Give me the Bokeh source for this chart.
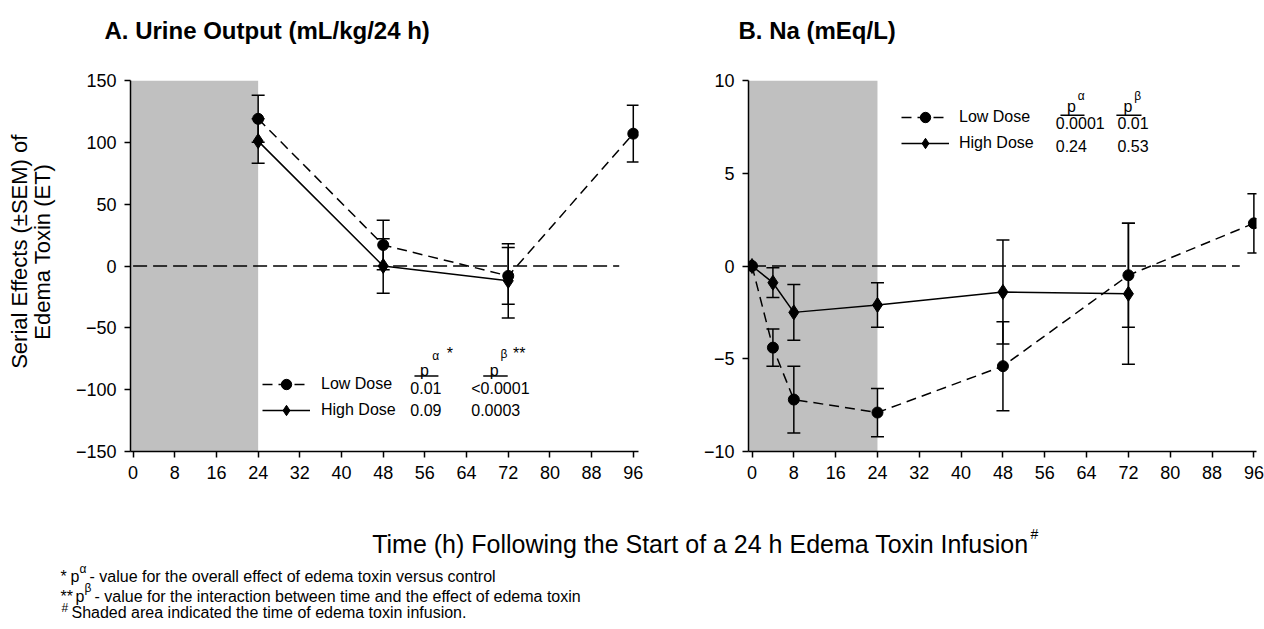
import math
from bokeh.plotting import figure
from bokeh.models import (Range1d, BoxAnnotation, Whisker, ColumnDataSource, Label,
                          FixedTicker, TeeHead, Legend, LegendItem)
from bokeh.layouts import row, column
from bokeh.embed import file_html
from bokeh.resources import INLINE
from bokeh.core.properties import value

# ---------------- data ----------------
hour_ticks = [0, 8, 16, 24, 32, 40, 48, 56, 64, 72, 80, 88, 96]
infusion_start = 0
infusion_end = 24

# Panel A: Urine output (mL/kg/24 h)
uo_low_hours = [24, 48, 72, 96]
uo_low = [119, 17, -8, 107]
uo_low_sem = [19, 20, 23, 23]
uo_high_hours = [24, 48, 72]
uo_high = [101, 0, -12]
uo_high_sem = [18, 22, 30]
uo_ticks = [-150, -100, -50, 0, 50, 100, 150]

# Panel B: Na (mEq/L)
na_low_hours = [0, 4, 8, 24, 48, 72, 96]
na_low = [0, -4.4, -7.2, -7.9, -5.4, -0.5, 2.3]
na_low_sem = [0, 1.0, 1.8, 1.3, 2.4, 2.8, 1.6]
na_high_hours = [0, 4, 8, 24, 48, 72]
na_high = [0, -0.9, -2.5, -2.1, -1.4, -1.5]
na_high_sem = [0, 0.8, 1.5, 1.2, 2.8, 3.8]
na_ticks = [-10, -5, 0, 5, 10]

# p-values
uo_p_alpha = ["0.01", "0.09"]
uo_p_beta = ["<0.0001", "0.0003"]
na_p_alpha = ["0.0001", "0.24"]
na_p_beta = ["0.01", "0.53"]

FONT = "Liberation Sans"
GRAY = "#c0c0c0"


def style(p, yticks):
    p.xaxis.ticker = FixedTicker(ticks=hour_ticks)
    p.yaxis.ticker = FixedTicker(ticks=yticks)
    for ax in p.axis:
        ax.axis_line_width = 1.5
        ax.axis_line_color = "black"
        ax.major_tick_line_width = 1.5
        ax.major_tick_line_color = "black"
        ax.major_tick_in = 0
        ax.major_tick_out = 6
        ax.minor_tick_line_color = None
        ax.major_label_text_font = FONT
        ax.major_label_text_font_size = "18px"
        ax.major_label_text_color = "black"
        ax.major_label_standoff = 8
    p.grid.visible = False
    p.outline_line_color = None
    p.background_fill_color = "white"
    p.border_fill_color = "white"


def lab(p, x, y, s, size="16px", align="left", baseline="middle", bold=False):
    p.add_layout(Label(x=x, y=y, text=s, text_font=FONT, text_font_size=size,
                       text_align=align, text_baseline=baseline, text_color="black",
                       text_font_style="bold" if bold else "normal"))


def whiskers(p, xs, ys, sems):
    xx = [x for x, s in zip(xs, sems) if s > 0]
    up = [y + s for y, s in zip(ys, sems) if s > 0]
    lo = [y - s for y, s in zip(ys, sems) if s > 0]
    src = ColumnDataSource(dict(x=xx, upper=up, lower=lo))
    w = Whisker(base="x", upper="upper", lower="lower", source=src,
                line_color="black", line_width=1.5,
                upper_head=TeeHead(size=13, line_width=1.5, line_color="black"),
                lower_head=TeeHead(size=13, line_width=1.5, line_color="black"))
    p.add_layout(w)


def series(p, xs, ys, dash, marker, msize):
    r_line = p.line(xs, ys, line_color="black", line_width=1.5, line_dash=dash)
    r_pts = p.scatter(xs, ys, marker=marker, size=msize, fill_color="black", line_color="black")
    return r_line, r_pts


def strip(width, height, x0, x1, ytop, ybottom):
    s = figure(width=width, height=height, output_backend="svg", toolbar_location=None,
               x_range=Range1d(x0, x1), y_range=Range1d(ybottom, ytop),
               x_axis_type=None, y_axis_type=None,
               min_border_left=0, min_border_right=0, min_border_top=0, min_border_bottom=0)
    s.grid.visible = False
    s.outline_line_color = None
    return s


def stext(s, x, y, t, size="16px", align="left", baseline="alphabetic", bold=False, angle=0.0):
    s.text(x=[x], y=[y], text=[t], text_font=value(FONT), text_font_size=size,
           text_align=align, text_baseline=baseline, text_color="black",
           text_font_style="bold" if bold else "normal", angle=angle)


# ---------------- title strip (page y 0..60) ----------------
pT = strip(1264, 60, 0, 1264, 0, 60)
stext(pT, 104, 30, "A. Urine Output (mL/kg/24 h)", size="24px", baseline="middle", bold=True)
stext(pT, 738, 30, "B. Na (mEq/L)", size="24px", baseline="middle", bold=True)

# ---------------- y-label strip (page x 0..60, y 60..515) ----------------
pL = strip(60, 455, 0, 60, 60, 515)
stext(pL, 19, 270, "Serial Effects (\u00b1SEM) of", size="22px", align="center",
      baseline="middle", angle=math.pi / 2)
stext(pL, 42, 270, "Edema Toxin (ET)", size="22px", align="center",
      baseline="middle", angle=math.pi / 2)

# ---------------- Panel A ----------------
pA = figure(width=630, height=455, output_backend="svg", toolbar_location=None,
            x_range=Range1d(-0.5, 97), y_range=Range1d(-150, 150),
            min_border_left=70, min_border_right=52, min_border_top=20, min_border_bottom=62)
style(pA, uo_ticks)
pA.add_layout(BoxAnnotation(left=None, right=infusion_end, fill_color=GRAY, fill_alpha=1.0,
                            line_color=None, level="underlay"))
pA.line([infusion_start, 93.3], [0, 0], line_color="black", line_width=1.5, line_dash="14 6")
whiskers(pA, uo_low_hours, uo_low, uo_low_sem)
whiskers(pA, uo_high_hours, uo_high, uo_high_sem)
la_l, la_p = series(pA, uo_low_hours, uo_low, "10 6", "circle", 11)
ha_l, ha_p = series(pA, uo_high_hours, uo_high, "solid", "diamond", 15)

legA = Legend(items=[LegendItem(label="Low Dose", renderers=[la_l, la_p]),
                     LegendItem(label="High Dose", renderers=[ha_l, ha_p])],
              location=(132, 28), orientation="vertical", padding=0, margin=0,
              spacing=-4, glyph_width=48, glyph_height=26, label_height=26,
              label_standoff=11, label_text_font=FONT, label_text_font_size="16px",
              label_text_color="black", border_line_color=None,
              background_fill_alpha=0.0)
pA.add_layout(legA, "center")

# p-value table, panel A
lab(pA, 55.9, -84.5, "p", baseline="alphabetic", align="center")
lab(pA, 57.4, -72.5, "\u03b1", size="12px")
lab(pA, 60.2, -71, "*", baseline="alphabetic")
pA.line([54, 58.6], [-89, -89], line_color="black", line_width=1.5)
lab(pA, 69.3, -84.5, "p", baseline="alphabetic", align="center")
lab(pA, 70.5, -71.5, "\u03b2", size="12px")
lab(pA, 72.9, -71, "**", baseline="alphabetic")
pA.line([67.2, 71.9], [-89, -89], line_color="black", line_width=1.5)
lab(pA, 53.2, -99, uo_p_alpha[0])
lab(pA, 53.2, -116.7, uo_p_alpha[1])
lab(pA, 64.9, -99, uo_p_beta[0])
lab(pA, 64.9, -116.7, uo_p_beta[1])

# ---------------- Panel B ----------------
pB = figure(width=574, height=455, output_backend="svg", toolbar_location=None,
            x_range=Range1d(-0.67, 96.5), y_range=Range1d(-10, 10),
            min_border_left=58, min_border_right=8, min_border_top=17, min_border_bottom=64)
style(pB, na_ticks)
pB.add_layout(BoxAnnotation(left=None, right=infusion_end, fill_color=GRAY, fill_alpha=1.0,
                            line_color=None, level="underlay"))
pB.line([infusion_start, 93.3], [0, 0], line_color="black", line_width=1.5, line_dash="14 6")
whiskers(pB, na_low_hours, na_low, na_low_sem)
whiskers(pB, na_high_hours, na_high, na_high_sem)
lb_l, lb_p = series(pB, na_low_hours, na_low, "10 6", "circle", 11)
hb_l, hb_p = series(pB, na_high_hours, na_high, "solid", "diamond", 15)

legB = Legend(items=[LegendItem(label="Low Dose", renderers=[lb_l, lb_p]),
                     LegendItem(label="High Dose", renderers=[hb_l, hb_p])],
              location=(153, 295), orientation="vertical", padding=0, margin=0,
              spacing=-3, glyph_width=48, glyph_height=26, label_height=26,
              label_standoff=10, label_text_font=FONT, label_text_font_size="16px",
              label_text_color="black", border_line_color=None,
              background_fill_alpha=0.0)
pB.add_layout(legB, "center")

lab(pB, 61.1, 8.6, "p", baseline="alphabetic", align="center")
lab(pB, 62.3, 9.15, "\u03b1", size="12px")
pB.line([59, 63.6], [8.13, 8.13], line_color="black", line_width=1.5)
lab(pB, 71.9, 8.6, "p", baseline="alphabetic", align="center")
lab(pB, 73.1, 9.15, "\u03b2", size="12px")
pB.line([69.7, 74.5], [8.13, 8.13], line_color="black", line_width=1.5)
lab(pB, 58.1, 7.7, na_p_alpha[0])
lab(pB, 58.1, 6.47, na_p_alpha[1])
lab(pB, 69.9, 7.7, na_p_beta[0])
lab(pB, 69.9, 6.47, na_p_beta[1])

# ---------------- bottom text strip (page y 515..629) ----------------
pC = strip(1264, 114, 0, 1264, 515, 629)
stext(pC, 1028, 543, "Time (h) Following the Start of a 24 h Edema Toxin Infusion", size="25px", align="right")
stext(pC, 1030, 533, "#", size="14px")

stext(pC, 60, 576, "*")
stext(pC, 70, 576, "p")
stext(pC, 79, 568, "\u03b1", size="12px")
stext(pC, 89, 576, "- value for the overall effect of edema toxin versus control")

stext(pC, 60, 596, "**")
stext(pC, 75, 596, "p")
stext(pC, 84, 587, "\u03b2", size="12px")
stext(pC, 94, 596, "- value for the interaction between time and the effect of edema toxin")

stext(pC, 61, 607, "#", size="12px")
stext(pC, 71, 612, "Shaded area indicated the time of edema toxin infusion.")

layout = column(pT, row(pL, pA, pB), pC)
open("out.html", "w").write(file_html(layout, INLINE))
